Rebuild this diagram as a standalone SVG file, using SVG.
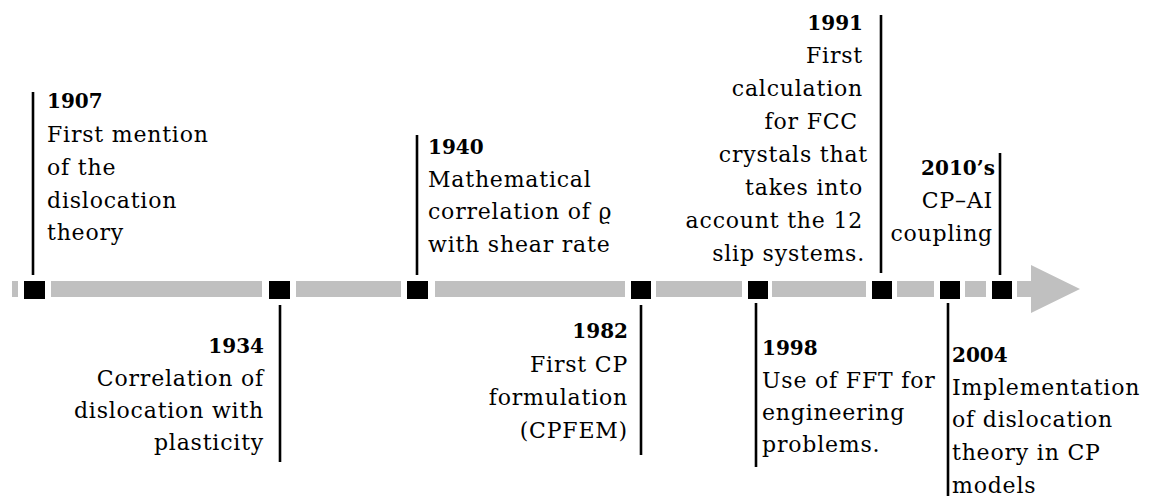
<svg xmlns="http://www.w3.org/2000/svg" width="1158" height="497" viewBox="0 0 1158 497">
<style>
.bar{fill:#c0c0c0}
.sq{fill:#000}
.ln{stroke:#000;stroke-width:2.6;fill:none}
text{font-family:"DejaVu Serif","Liberation Serif",serif;font-size:22px;letter-spacing:0.8px;fill:#000}
.yr{font-weight:bold;font-size:20px;letter-spacing:0}
.r{text-anchor:end}
</style>
<rect width="1158" height="497" fill="#fff"/>
<g id="axis">
<rect class="bar" x="12" y="281" width="6" height="16"/>
<rect class="bar" x="51" y="281" width="211" height="16"/>
<rect class="bar" x="296" y="281" width="105" height="16"/>
<rect class="bar" x="435" y="281" width="190" height="16"/>
<rect class="bar" x="656" y="281" width="86" height="16"/>
<rect class="bar" x="772" y="281" width="94" height="16"/>
<rect class="bar" x="897" y="281" width="37" height="16"/>
<rect class="bar" x="965" y="281" width="21" height="16"/>
<path class="bar" d="M1017 281H1031V265L1080 289L1031 313V297H1017Z"/>
</g>
<g id="connectors">
<line class="ln" x1="33" y1="92" x2="33" y2="275"/>
<line class="ln" x1="280" y1="305" x2="280" y2="462"/>
<line class="ln" x1="417" y1="135" x2="417" y2="275"/>
<line class="ln" x1="641" y1="305" x2="641" y2="455"/>
<line class="ln" x1="756" y1="303" x2="756" y2="467"/>
<line class="ln" x1="881" y1="15" x2="881" y2="273"/>
<line class="ln" x1="948" y1="303" x2="948" y2="496"/>
<line class="ln" x1="1000" y1="153" x2="1000" y2="275"/>
</g>
<g id="e1907">
<rect class="sq" x="24" y="281" width="21" height="18"/>
<text class="yr" x="47" y="108">1907</text>
<text x="47" y="142">First mention</text>
<text x="47" y="175">of the</text>
<text x="47" y="208">dislocation</text>
<text x="47" y="240">theory</text>
</g>
<g id="e1934">
<rect class="sq" x="269" y="281" width="21" height="18"/>
<text class="yr r" x="264" y="353">1934</text>
<text class="r" x="264" y="386">Correlation of</text>
<text class="r" x="264" y="418">dislocation with</text>
<text class="r" x="264" y="450">plasticity</text>
</g>
<g id="e1940">
<rect class="sq" x="407" y="281" width="21" height="18"/>
<text class="yr" x="428" y="154">1940</text>
<text x="428" y="187">Mathematical</text>
<text x="428" y="219">correlation of ϱ</text>
<text x="428" y="252">with shear rate</text>
</g>
<g id="e1982">
<rect class="sq" x="631" y="281" width="20" height="18"/>
<text class="yr r" x="628" y="338">1982</text>
<text class="r" x="628" y="372">First CP</text>
<text class="r" x="628" y="405">formulation</text>
<text class="r" x="628" y="438">(CPFEM)</text>
</g>
<g id="e1998">
<rect class="sq" x="748" y="281" width="20" height="18"/>
<text class="yr" x="762" y="355">1998</text>
<text x="762" y="388">Use of FFT for</text>
<text x="762" y="420">engineering</text>
<text x="762" y="452">problems.</text>
</g>
<g id="e1991">
<rect class="sq" x="872" y="281" width="20" height="18"/>
<text class="yr r" x="863" y="30">1991</text>
<text class="r" x="863" y="63">First</text>
<text class="r" x="863" y="96">calculation</text>
<text class="r" x="858" y="129">for FCC</text>
<text class="r" x="868" y="162">crystals that</text>
<text class="r" x="863" y="195">takes into</text>
<text class="r" x="863" y="228">account the 12</text>
<text class="r" x="865" y="261">slip systems.</text>
</g>
<g id="e2004">
<rect class="sq" x="940" y="281" width="20" height="18"/>
<text class="yr" x="952" y="362">2004</text>
<text x="952" y="395">Implementation</text>
<text x="952" y="427">of dislocation</text>
<text x="952" y="460">theory in CP</text>
<text x="952" y="493">models</text>
</g>
<g id="e2010s">
<rect class="sq" x="992" y="281" width="20" height="18"/>
<text class="yr r" x="995" y="175">2010’s</text>
<text class="r" x="993" y="208">CP–AI</text>
<text class="r" x="993" y="241">coupling</text>
</g>
</svg>
